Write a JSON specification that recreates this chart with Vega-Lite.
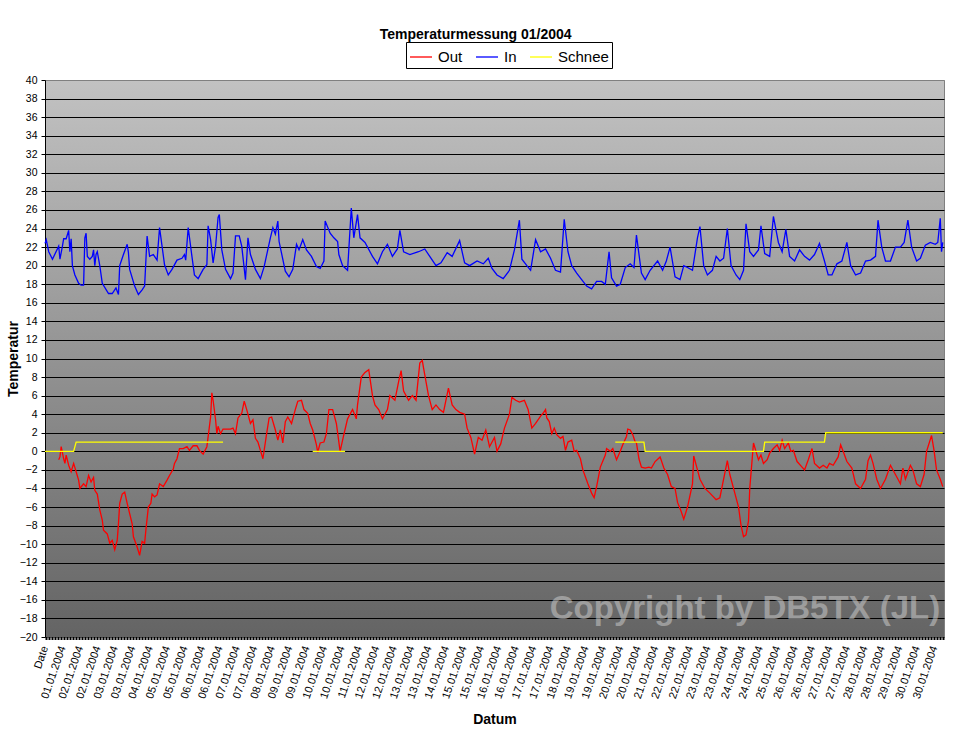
{
  "$schema": "https://vega.github.io/schema/vega-lite/v6.json",
  "width": 899,
  "height": 557,
  "autosize": {"type": "none"},
  "padding": {"left": 45, "top": 80, "right": 17, "bottom": 112},
  "background": "white",
  "title": {"text": "Temperaturmessung 01/2004", "anchor": "middle", "frame": "bounds", "fontSize": 14, "font": "Liberation Sans", "fontWeight": "bold", "color": "black", "offset": -14, "baseline": "bottom"},
  "config": {
    "font": "Liberation Sans",
    "view": {"stroke": "#808080", "fill": {"gradient": "linear", "x1": 0, "y1": 0, "x2": 0, "y2": 1, "stops": [{"offset": 0, "color": "#c2c2c2"}, {"offset": 1, "color": "#646464"}]}}
  },
  "layer": [
    {
      "data": {"values": [
        {"h":0,"s":"In","v":22.4},{"h":1,"s":"In","v":22.8},{"h":3,"s":"In","v":21.5},{"h":6,"s":"In","v":20.7},{"h":11,"s":"In","v":22.1},{"h":12,"s":"In","v":20.7},{"h":14,"s":"In","v":22.1},{"h":15,"s":"In","v":22.9},{"h":17,"s":"In","v":22.9},{"h":19,"s":"In","v":23.8},{"h":20,"s":"In","v":21.5},{"h":21,"s":"In","v":22.9},{"h":22,"s":"In","v":20.0},{"h":24,"s":"In","v":19.0},{"h":27,"s":"In","v":18.1},{"h":29,"s":"In","v":17.9},{"h":31,"s":"In","v":17.9},{"h":32,"s":"In","v":23.0},{"h":33,"s":"In","v":23.5},{"h":34,"s":"In","v":21.0},{"h":36,"s":"In","v":20.7},{"h":38,"s":"In","v":21.0},{"h":39,"s":"In","v":21.7},{"h":40,"s":"In","v":20.0},{"h":41,"s":"In","v":21.2},{"h":42,"s":"In","v":21.5},{"h":44,"s":"In","v":20.0},{"h":46,"s":"In","v":18.1},{"h":51,"s":"In","v":17.0},{"h":54,"s":"In","v":17.0},{"h":57,"s":"In","v":17.6},{"h":59,"s":"In","v":16.9},{"h":60,"s":"In","v":20.0},{"h":63,"s":"In","v":21.2},{"h":66,"s":"In","v":22.3},{"h":67,"s":"In","v":21.4},{"h":68,"s":"In","v":19.6},{"h":72,"s":"In","v":17.8},{"h":75,"s":"In","v":16.9},{"h":78,"s":"In","v":17.4},{"h":80,"s":"In","v":17.8},{"h":82,"s":"In","v":23.2},{"h":84,"s":"In","v":21.0},{"h":87,"s":"In","v":21.2},{"h":90,"s":"In","v":20.6},{"h":92,"s":"In","v":24.1},{"h":94,"s":"In","v":22.1},{"h":96,"s":"In","v":20.1},{"h":99,"s":"In","v":19.0},{"h":102,"s":"In","v":19.6},{"h":106,"s":"In","v":20.6},{"h":110,"s":"In","v":20.8},{"h":112,"s":"In","v":21.2},{"h":113,"s":"In","v":20.6},{"h":115,"s":"In","v":24.1},{"h":118,"s":"In","v":21.0},{"h":120,"s":"In","v":19.0},{"h":123,"s":"In","v":18.6},{"h":127,"s":"In","v":19.6},{"h":130,"s":"In","v":20.1},{"h":131,"s":"In","v":24.3},{"h":133,"s":"In","v":22.8},{"h":135,"s":"In","v":20.3},{"h":137,"s":"In","v":22.1},{"h":139,"s":"In","v":25.2},{"h":140,"s":"In","v":25.5},{"h":142,"s":"In","v":21.7},{"h":145,"s":"In","v":19.6},{"h":149,"s":"In","v":18.6},{"h":151,"s":"In","v":19.2},{"h":153,"s":"In","v":23.2},{"h":156,"s":"In","v":23.2},{"h":158,"s":"In","v":22.1},{"h":161,"s":"In","v":18.5},{"h":163,"s":"In","v":23.0},{"h":165,"s":"In","v":21.2},{"h":169,"s":"In","v":19.6},{"h":173,"s":"In","v":18.6},{"h":176,"s":"In","v":19.9},{"h":181,"s":"In","v":23.0},{"h":183,"s":"In","v":24.1},{"h":185,"s":"In","v":23.4},{"h":187,"s":"In","v":24.8},{"h":188,"s":"In","v":22.6},{"h":193,"s":"In","v":19.4},{"h":196,"s":"In","v":18.8},{"h":199,"s":"In","v":19.6},{"h":202,"s":"In","v":22.3},{"h":204,"s":"In","v":21.7},{"h":207,"s":"In","v":22.8},{"h":210,"s":"In","v":21.7},{"h":214,"s":"In","v":21.0},{"h":218,"s":"In","v":19.9},{"h":221,"s":"In","v":19.7},{"h":224,"s":"In","v":20.5},{"h":225,"s":"In","v":24.8},{"h":229,"s":"In","v":23.5},{"h":232,"s":"In","v":23.0},{"h":235,"s":"In","v":22.6},{"h":236,"s":"In","v":21.2},{"h":239,"s":"In","v":20.0},{"h":243,"s":"In","v":19.5},{"h":246,"s":"In","v":26.2},{"h":248,"s":"In","v":23.0},{"h":251,"s":"In","v":25.5},{"h":253,"s":"In","v":23.0},{"h":257,"s":"In","v":22.5},{"h":263,"s":"In","v":21.0},{"h":267,"s":"In","v":20.2},{"h":271,"s":"In","v":21.5},{"h":275,"s":"In","v":22.3},{"h":279,"s":"In","v":21.0},{"h":283,"s":"In","v":21.8},{"h":285,"s":"In","v":23.8},{"h":288,"s":"In","v":21.5},{"h":293,"s":"In","v":21.2},{"h":300,"s":"In","v":21.5},{"h":305,"s":"In","v":21.8},{"h":309,"s":"In","v":21.0},{"h":314,"s":"In","v":20.0},{"h":318,"s":"In","v":20.3},{"h":323,"s":"In","v":21.4},{"h":327,"s":"In","v":21.0},{"h":333,"s":"In","v":22.7},{"h":337,"s":"In","v":20.3},{"h":341,"s":"In","v":20.0},{"h":347,"s":"In","v":20.5},{"h":352,"s":"In","v":20.2},{"h":356,"s":"In","v":20.8},{"h":359,"s":"In","v":19.7},{"h":363,"s":"In","v":19.0},{"h":368,"s":"In","v":18.6},{"h":373,"s":"In","v":19.5},{"h":377,"s":"In","v":21.7},{"h":381,"s":"In","v":24.9},{"h":383,"s":"In","v":20.7},{"h":387,"s":"In","v":20.0},{"h":390,"s":"In","v":19.5},{"h":394,"s":"In","v":22.8},{"h":398,"s":"In","v":21.5},{"h":402,"s":"In","v":21.8},{"h":406,"s":"In","v":20.8},{"h":410,"s":"In","v":19.5},{"h":414,"s":"In","v":19.3},{"h":417,"s":"In","v":25.0},{"h":420,"s":"In","v":21.5},{"h":423,"s":"In","v":20.0},{"h":427,"s":"In","v":19.2},{"h":431,"s":"In","v":18.5},{"h":435,"s":"In","v":17.8},{"h":439,"s":"In","v":17.5},{"h":443,"s":"In","v":18.3},{"h":447,"s":"In","v":18.3},{"h":450,"s":"In","v":18.0},{"h":453,"s":"In","v":21.5},{"h":455,"s":"In","v":18.7},{"h":459,"s":"In","v":17.8},{"h":462,"s":"In","v":18.0},{"h":466,"s":"In","v":19.8},{"h":470,"s":"In","v":20.2},{"h":473,"s":"In","v":19.8},{"h":475,"s":"In","v":23.3},{"h":479,"s":"In","v":19.2},{"h":482,"s":"In","v":18.5},{"h":486,"s":"In","v":19.5},{"h":489,"s":"In","v":20.0},{"h":492,"s":"In","v":20.5},{"h":496,"s":"In","v":19.5},{"h":499,"s":"In","v":20.5},{"h":502,"s":"In","v":22.0},{"h":506,"s":"In","v":18.8},{"h":510,"s":"In","v":18.5},{"h":513,"s":"In","v":20.0},{"h":516,"s":"In","v":19.8},{"h":520,"s":"In","v":19.5},{"h":524,"s":"In","v":23.0},{"h":526,"s":"In","v":24.2},{"h":529,"s":"In","v":20.0},{"h":532,"s":"In","v":19.0},{"h":536,"s":"In","v":19.5},{"h":539,"s":"In","v":21.0},{"h":542,"s":"In","v":20.5},{"h":545,"s":"In","v":20.8},{"h":548,"s":"In","v":24.0},{"h":551,"s":"In","v":20.0},{"h":555,"s":"In","v":19.0},{"h":558,"s":"In","v":18.5},{"h":561,"s":"In","v":19.5},{"h":563,"s":"In","v":24.5},{"h":566,"s":"In","v":21.5},{"h":569,"s":"In","v":21.0},{"h":573,"s":"In","v":21.7},{"h":575,"s":"In","v":24.3},{"h":578,"s":"In","v":21.3},{"h":582,"s":"In","v":21.0},{"h":585,"s":"In","v":25.3},{"h":589,"s":"In","v":22.5},{"h":592,"s":"In","v":21.5},{"h":595,"s":"In","v":23.9},{"h":598,"s":"In","v":21.0},{"h":602,"s":"In","v":20.5},{"h":606,"s":"In","v":21.7},{"h":610,"s":"In","v":21.0},{"h":614,"s":"In","v":20.6},{"h":618,"s":"In","v":21.2},{"h":622,"s":"In","v":22.4},{"h":626,"s":"In","v":20.5},{"h":629,"s":"In","v":19.0},{"h":632,"s":"In","v":19.0},{"h":636,"s":"In","v":20.2},{"h":640,"s":"In","v":20.5},{"h":644,"s":"In","v":22.5},{"h":647,"s":"In","v":20.0},{"h":651,"s":"In","v":19.0},{"h":655,"s":"In","v":19.2},{"h":659,"s":"In","v":20.5},{"h":663,"s":"In","v":20.6},{"h":667,"s":"In","v":21.0},{"h":669,"s":"In","v":24.9},{"h":672,"s":"In","v":22.0},{"h":675,"s":"In","v":20.5},{"h":679,"s":"In","v":20.5},{"h":683,"s":"In","v":22.0},{"h":687,"s":"In","v":22.0},{"h":690,"s":"In","v":22.5},{"h":693,"s":"In","v":24.9},{"h":696,"s":"In","v":22.0},{"h":700,"s":"In","v":20.5},{"h":703,"s":"In","v":20.8},{"h":707,"s":"In","v":22.2},{"h":711,"s":"In","v":22.5},{"h":715,"s":"In","v":22.3},{"h":717,"s":"In","v":22.5},{"h":719,"s":"In","v":25.1},{"h":720,"s":"In","v":21.5},{"h":721,"s":"In","v":22.5},
        {"h":11,"s":"Out","v":-0.9},{"h":12,"s":"Out","v":-0.6},{"h":13,"s":"Out","v":0.5},{"h":15,"s":"Out","v":-0.8},{"h":16,"s":"Out","v":-1.3},{"h":17,"s":"Out","v":-0.4},{"h":19,"s":"Out","v":-1.5},{"h":21,"s":"Out","v":-2.2},{"h":23,"s":"Out","v":-1.3},{"h":25,"s":"Out","v":-2.2},{"h":27,"s":"Out","v":-3.1},{"h":28,"s":"Out","v":-4.0},{"h":31,"s":"Out","v":-3.5},{"h":33,"s":"Out","v":-3.8},{"h":35,"s":"Out","v":-2.6},{"h":37,"s":"Out","v":-3.3},{"h":39,"s":"Out","v":-2.8},{"h":40,"s":"Out","v":-4.2},{"h":42,"s":"Out","v":-4.6},{"h":44,"s":"Out","v":-6.3},{"h":46,"s":"Out","v":-7.4},{"h":47,"s":"Out","v":-8.5},{"h":50,"s":"Out","v":-8.9},{"h":52,"s":"Out","v":-9.9},{"h":54,"s":"Out","v":-9.6},{"h":56,"s":"Out","v":-10.6},{"h":58,"s":"Out","v":-9.6},{"h":59,"s":"Out","v":-7.8},{"h":60,"s":"Out","v":-5.6},{"h":62,"s":"Out","v":-4.6},{"h":64,"s":"Out","v":-4.4},{"h":66,"s":"Out","v":-5.6},{"h":68,"s":"Out","v":-6.7},{"h":70,"s":"Out","v":-7.8},{"h":71,"s":"Out","v":-9.2},{"h":74,"s":"Out","v":-10.3},{"h":76,"s":"Out","v":-11.2},{"h":78,"s":"Out","v":-9.7},{"h":80,"s":"Out","v":-9.9},{"h":81,"s":"Out","v":-8.5},{"h":83,"s":"Out","v":-6.0},{"h":85,"s":"Out","v":-5.6},{"h":86,"s":"Out","v":-4.6},{"h":88,"s":"Out","v":-4.9},{"h":90,"s":"Out","v":-4.7},{"h":92,"s":"Out","v":-3.5},{"h":95,"s":"Out","v":-3.8},{"h":98,"s":"Out","v":-3.1},{"h":100,"s":"Out","v":-2.6},{"h":103,"s":"Out","v":-1.9},{"h":104,"s":"Out","v":-1.3},{"h":106,"s":"Out","v":-0.8},{"h":108,"s":"Out","v":0.3},{"h":111,"s":"Out","v":0.3},{"h":114,"s":"Out","v":0.5},{"h":116,"s":"Out","v":0.1},{"h":119,"s":"Out","v":0.6},{"h":122,"s":"Out","v":0.6},{"h":124,"s":"Out","v":0.1},{"h":127,"s":"Out","v":-0.3},{"h":130,"s":"Out","v":0.5},{"h":133,"s":"Out","v":3.7},{"h":134,"s":"Out","v":6.3},{"h":135,"s":"Out","v":5.5},{"h":137,"s":"Out","v":3.4},{"h":138,"s":"Out","v":1.9},{"h":139,"s":"Out","v":2.7},{"h":141,"s":"Out","v":1.9},{"h":143,"s":"Out","v":2.4},{"h":149,"s":"Out","v":2.4},{"h":151,"s":"Out","v":2.5},{"h":153,"s":"Out","v":1.9},{"h":155,"s":"Out","v":3.6},{"h":158,"s":"Out","v":4.1},{"h":160,"s":"Out","v":5.4},{"h":162,"s":"Out","v":4.5},{"h":165,"s":"Out","v":3.0},{"h":167,"s":"Out","v":3.4},{"h":169,"s":"Out","v":1.4},{"h":171,"s":"Out","v":1.0},{"h":173,"s":"Out","v":0.1},{"h":175,"s":"Out","v":-0.8},{"h":178,"s":"Out","v":1.9},{"h":180,"s":"Out","v":3.6},{"h":182,"s":"Out","v":3.7},{"h":185,"s":"Out","v":2.3},{"h":187,"s":"Out","v":1.2},{"h":189,"s":"Out","v":2.3},{"h":191,"s":"Out","v":0.9},{"h":193,"s":"Out","v":3.2},{"h":195,"s":"Out","v":3.7},{"h":198,"s":"Out","v":3.0},{"h":201,"s":"Out","v":4.5},{"h":203,"s":"Out","v":5.4},{"h":206,"s":"Out","v":5.5},{"h":208,"s":"Out","v":4.5},{"h":211,"s":"Out","v":4.1},{"h":213,"s":"Out","v":3.0},{"h":215,"s":"Out","v":2.3},{"h":218,"s":"Out","v":0.7},{"h":219,"s":"Out","v":-0.1},{"h":221,"s":"Out","v":0.9},{"h":224,"s":"Out","v":1.0},{"h":226,"s":"Out","v":1.9},{"h":228,"s":"Out","v":4.5},{"h":231,"s":"Out","v":4.5},{"h":234,"s":"Out","v":3.0},{"h":237,"s":"Out","v":0.0},{"h":240,"s":"Out","v":1.8},{"h":243,"s":"Out","v":3.5},{"h":247,"s":"Out","v":4.5},{"h":250,"s":"Out","v":3.5},{"h":251,"s":"Out","v":5.0},{"h":254,"s":"Out","v":8.0},{"h":257,"s":"Out","v":8.5},{"h":260,"s":"Out","v":8.8},{"h":263,"s":"Out","v":6.0},{"h":265,"s":"Out","v":5.0},{"h":268,"s":"Out","v":4.5},{"h":271,"s":"Out","v":3.5},{"h":275,"s":"Out","v":4.5},{"h":277,"s":"Out","v":6.0},{"h":281,"s":"Out","v":5.5},{"h":284,"s":"Out","v":7.5},{"h":286,"s":"Out","v":8.7},{"h":288,"s":"Out","v":6.5},{"h":292,"s":"Out","v":5.5},{"h":295,"s":"Out","v":6.0},{"h":298,"s":"Out","v":5.5},{"h":301,"s":"Out","v":9.5},{"h":303,"s":"Out","v":9.8},{"h":304,"s":"Out","v":9.0},{"h":308,"s":"Out","v":6.0},{"h":311,"s":"Out","v":4.5},{"h":314,"s":"Out","v":5.0},{"h":317,"s":"Out","v":4.5},{"h":320,"s":"Out","v":4.2},{"h":324,"s":"Out","v":6.8},{"h":327,"s":"Out","v":5.0},{"h":330,"s":"Out","v":4.5},{"h":333,"s":"Out","v":4.2},{"h":337,"s":"Out","v":4.0},{"h":339,"s":"Out","v":2.5},{"h":342,"s":"Out","v":1.5},{"h":345,"s":"Out","v":-0.3},{"h":348,"s":"Out","v":1.5},{"h":351,"s":"Out","v":1.2},{"h":354,"s":"Out","v":2.3},{"h":357,"s":"Out","v":0.5},{"h":361,"s":"Out","v":1.5},{"h":363,"s":"Out","v":0.0},{"h":366,"s":"Out","v":0.8},{"h":369,"s":"Out","v":2.5},{"h":373,"s":"Out","v":4.0},{"h":375,"s":"Out","v":5.8},{"h":378,"s":"Out","v":5.5},{"h":381,"s":"Out","v":5.3},{"h":385,"s":"Out","v":5.5},{"h":388,"s":"Out","v":4.5},{"h":391,"s":"Out","v":2.5},{"h":394,"s":"Out","v":3.0},{"h":398,"s":"Out","v":3.8},{"h":400,"s":"Out","v":4.1},{"h":402,"s":"Out","v":4.5},{"h":403,"s":"Out","v":3.6},{"h":405,"s":"Out","v":3.2},{"h":407,"s":"Out","v":1.9},{"h":409,"s":"Out","v":2.5},{"h":411,"s":"Out","v":1.8},{"h":414,"s":"Out","v":1.4},{"h":416,"s":"Out","v":1.6},{"h":418,"s":"Out","v":0.1},{"h":420,"s":"Out","v":1.0},{"h":423,"s":"Out","v":1.2},{"h":425,"s":"Out","v":0.0},{"h":427,"s":"Out","v":0.1},{"h":430,"s":"Out","v":-0.8},{"h":432,"s":"Out","v":-2.0},{"h":436,"s":"Out","v":-3.5},{"h":439,"s":"Out","v":-4.5},{"h":441,"s":"Out","v":-5.0},{"h":443,"s":"Out","v":-3.8},{"h":446,"s":"Out","v":-1.7},{"h":450,"s":"Out","v":-0.4},{"h":451,"s":"Out","v":0.3},{"h":454,"s":"Out","v":0.0},{"h":456,"s":"Out","v":0.3},{"h":459,"s":"Out","v":-0.9},{"h":462,"s":"Out","v":0.0},{"h":464,"s":"Out","v":0.7},{"h":467,"s":"Out","v":1.6},{"h":468,"s":"Out","v":2.4},{"h":470,"s":"Out","v":2.3},{"h":472,"s":"Out","v":1.8},{"h":474,"s":"Out","v":1.0},{"h":475,"s":"Out","v":0.9},{"h":477,"s":"Out","v":-0.8},{"h":479,"s":"Out","v":-1.7},{"h":482,"s":"Out","v":-1.8},{"h":485,"s":"Out","v":-1.7},{"h":487,"s":"Out","v":-1.8},{"h":490,"s":"Out","v":-1.1},{"h":494,"s":"Out","v":-0.6},{"h":497,"s":"Out","v":-1.8},{"h":500,"s":"Out","v":-2.5},{"h":503,"s":"Out","v":-3.8},{"h":506,"s":"Out","v":-4.0},{"h":508,"s":"Out","v":-5.5},{"h":511,"s":"Out","v":-6.5},{"h":513,"s":"Out","v":-7.3},{"h":516,"s":"Out","v":-6.0},{"h":520,"s":"Out","v":-3.5},{"h":521,"s":"Out","v":-0.5},{"h":524,"s":"Out","v":-2.0},{"h":526,"s":"Out","v":-3.0},{"h":530,"s":"Out","v":-4.0},{"h":534,"s":"Out","v":-4.5},{"h":539,"s":"Out","v":-5.2},{"h":542,"s":"Out","v":-5.0},{"h":545,"s":"Out","v":-3.0},{"h":548,"s":"Out","v":-1.0},{"h":550,"s":"Out","v":-2.5},{"h":554,"s":"Out","v":-4.5},{"h":557,"s":"Out","v":-6.0},{"h":559,"s":"Out","v":-8.0},{"h":561,"s":"Out","v":-9.2},{"h":563,"s":"Out","v":-9.0},{"h":565,"s":"Out","v":-7.5},{"h":566,"s":"Out","v":-4.0},{"h":569,"s":"Out","v":0.9},{"h":571,"s":"Out","v":0.0},{"h":573,"s":"Out","v":-0.9},{"h":575,"s":"Out","v":-0.4},{"h":577,"s":"Out","v":-1.3},{"h":580,"s":"Out","v":-0.9},{"h":582,"s":"Out","v":-0.2},{"h":585,"s":"Out","v":0.3},{"h":588,"s":"Out","v":0.7},{"h":590,"s":"Out","v":0.1},{"h":592,"s":"Out","v":1.2},{"h":594,"s":"Out","v":0.3},{"h":597,"s":"Out","v":0.9},{"h":599,"s":"Out","v":0.0},{"h":601,"s":"Out","v":0.1},{"h":604,"s":"Out","v":-1.1},{"h":608,"s":"Out","v":-1.7},{"h":610,"s":"Out","v":-2.0},{"h":613,"s":"Out","v":-0.9},{"h":616,"s":"Out","v":0.3},{"h":618,"s":"Out","v":-1.3},{"h":622,"s":"Out","v":-1.8},{"h":625,"s":"Out","v":-1.5},{"h":628,"s":"Out","v":-1.8},{"h":630,"s":"Out","v":-1.3},{"h":633,"s":"Out","v":-1.5},{"h":637,"s":"Out","v":-0.6},{"h":639,"s":"Out","v":0.7},{"h":641,"s":"Out","v":0.0},{"h":644,"s":"Out","v":-1.1},{"h":648,"s":"Out","v":-1.8},{"h":651,"s":"Out","v":-3.5},{"h":655,"s":"Out","v":-4.0},{"h":659,"s":"Out","v":-3.0},{"h":661,"s":"Out","v":-1.0},{"h":663,"s":"Out","v":-0.4},{"h":665,"s":"Out","v":-1.3},{"h":668,"s":"Out","v":-3.0},{"h":671,"s":"Out","v":-4.0},{"h":675,"s":"Out","v":-3.0},{"h":679,"s":"Out","v":-1.5},{"h":683,"s":"Out","v":-2.5},{"h":687,"s":"Out","v":-3.5},{"h":689,"s":"Out","v":-1.8},{"h":691,"s":"Out","v":-3.0},{"h":695,"s":"Out","v":-1.5},{"h":697,"s":"Out","v":-2.0},{"h":700,"s":"Out","v":-3.5},{"h":703,"s":"Out","v":-3.8},{"h":706,"s":"Out","v":-2.5},{"h":708,"s":"Out","v":0.0},{"h":712,"s":"Out","v":1.7},{"h":714,"s":"Out","v":0.1},{"h":716,"s":"Out","v":-2.0},{"h":719,"s":"Out","v":-3.0},{"h":721,"s":"Out","v":-3.8},
        {"h":0,"s":"Schnee","seg":1,"v":0},{"h":23,"s":"Schnee","seg":1,"v":0},{"h":25,"s":"Schnee","seg":1,"v":1},{"h":143,"s":"Schnee","seg":1,"v":1},
        {"h":215,"s":"Schnee","seg":2,"v":0},{"h":241,"s":"Schnee","seg":2,"v":0},
        {"h":458,"s":"Schnee","seg":3,"v":1},{"h":481,"s":"Schnee","seg":3,"v":1},{"h":482,"s":"Schnee","seg":3,"v":0},{"h":577,"s":"Schnee","seg":3,"v":0},{"h":578,"s":"Schnee","seg":3,"v":1},{"h":626,"s":"Schnee","seg":3,"v":1},{"h":627,"s":"Schnee","seg":3,"v":2},{"h":721,"s":"Schnee","seg":3,"v":2}
      ]},
      "mark": {"type": "line", "strokeWidth": 1.3, "interpolate": "linear"},
      "encoding": {
        "x": {
          "field": "h", "type": "quantitative",
          "scale": {"domain": [0, 722], "nice": false, "zero": false},
          "axis": {
            "values": [0,14,28,42,56,70,84,98,112,126,140,154,168,182,196,210,224,238,252,266,280,294,308,322,336,350,364,378,392,406,420,434,448,462,476,490,504,518,532,546,560,574,588,602,616,630,644,658,672,686,700,714],
            "tickCount": 200,
            "labelExpr": "['Date','01.01.2004','02.01.2004','02.01.2004','03.01.2004','03.01.2004','04.01.2004','05.01.2004','05.01.2004','06.01.2004','06.01.2004','07.01.2004','07.01.2004','08.01.2004','09.01.2004','09.01.2004','10.01.2004','10.01.2004','11.01.2004','12.01.2004','12.01.2004','13.01.2004','13.01.2004','14.01.2004','15.01.2004','15.01.2004','16.01.2004','16.01.2004','17.01.2004','17.01.2004','18.01.2004','19.01.2004','19.01.2004','20.01.2004','20.01.2004','21.01.2004','22.01.2004','22.01.2004','23.01.2004','23.01.2004','24.01.2004','24.01.2004','25.01.2004','26.01.2004','26.01.2004','27.01.2004','27.01.2004','28.01.2004','28.01.2004','29.01.2004','30.01.2004','30.01.2004'][round(datum.value/14)]",
            "labelAngle": -71, "labelAlign": "right", "labelBaseline": "middle",
            "labelFontSize": 11, "labelColor": "black", "labelPadding": 8,
            "labelOverlap": false, "labelBound": false, "labelFlush": false,
            "ticks": false, "grid": false,
            "domainColor": "black", "domainWidth": 3, "domainDash": [2, 1], "offset": 1,
            "title": "Datum", "titleFontSize": 14, "titleFontWeight": "bold", "titleColor": "black",
            "titleY": 74, "titleBaseline": "top"
          }
        },
        "y": {
          "field": "v", "type": "quantitative",
          "scale": {"domain": [-20, 40], "nice": false, "zero": false},
          "axis": {
            "values": [-20,-18,-16,-14,-12,-10,-8,-6,-4,-2,0,2,4,6,8,10,12,14,16,18,20,22,24,26,28,30,32,34,36,38,40],
            "tickCount": 200,
            "format": "d",
            "labelOverlap": false,
            "grid": true,
            "gridColor": {"condition": {"test": "datum.value == 40 || datum.value == -20", "value": "#808080"}, "value": "black"},
            "gridWidth": 1, "gridOpacity": 1,
            "labelFontSize": 10.5, "labelColor": "black", "labelPadding": 4,
            "tickColor": "black", "tickSize": 4,
            "domainColor": "black",
            "title": "Temperatur", "titleFontSize": 14, "titleFontWeight": "bold", "titleColor": "black",
            "titleX": -25, "titleY": 278.5
          }
        },
        "color": {
          "field": "s", "type": "nominal",
          "scale": {"domain": ["Out", "In", "Schnee"], "range": ["#ff0000", "#0000ff", "#ffff00"]},
          "legend": {
            "orient": "none", "legendX": 361, "legendY": -38, "direction": "horizontal",
            "title": null, "symbolType": "stroke", "symbolSize": 484, "symbolStrokeWidth": 1.3,
            "labelFontSize": 15, "labelColor": "black", "labelOffset": 5,
            "strokeColor": "black", "fillColor": "white", "padding": 3, "columnPadding": 10
          }
        },
        "detail": {"field": "seg", "type": "nominal"}
      }
    },
    {
      "data": {"values": [{"label": "Copyright by DB5TX (JL)"}]},
      "mark": {"type": "text", "align": "right", "baseline": "alphabetic", "fontSize": 33, "fontWeight": "bold", "font": "Liberation Sans", "color": "#c8c8c8", "opacity": 0.55},
      "encoding": {
        "x": {"datum": 719, "type": "quantitative"},
        "y": {"datum": -18.1, "type": "quantitative"},
        "text": {"field": "label"}
      }
    }
  ]
}
